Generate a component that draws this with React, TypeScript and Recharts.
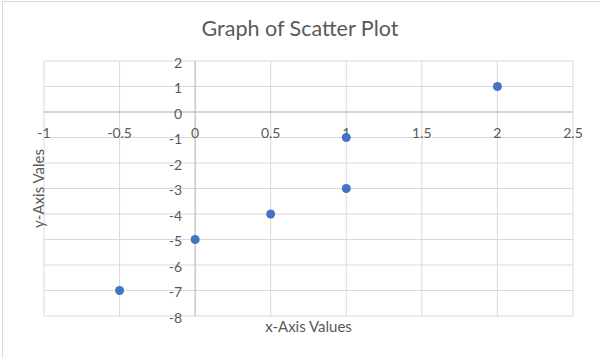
import React from "react";
import {
  ReferenceDot,
  ReferenceLine,
  Scatter,
  ScatterChart,
  XAxis,
  YAxis
} from "recharts";

const xValues = [-0.5, 0, 0.5, 1, 1, 2];
const yValues = [-7, -5, -4, -3, -1, 1];
const xTicks = [-1, -0.5, 0, 0.5, 1, 1.5, 2, 2.5];
const yTicks = [-8, -7, -6, -5, -4, -3, -2, -1, 0, 1, 2];

const points = xValues.map((x, i) => ({ x, y: yValues[i] }));

const font = "Lato, 'Open Sans', sans-serif";
const textColor = "#595959";

export default function App() {
  return (
    <div
      style={{
        position: "absolute",
        left: 0,
        top: 0,
        width: 600,
        height: 358,
        background: "#fff",
        fontFamily: font
      }}
    >
      <div
        style={{
          position: "absolute",
          left: 2,
          top: 1,
          right: 0,
          height: 357,
          borderTop: "1px solid #d9d9d9",
          borderLeft: "1px solid #d9d9d9"
        }}
      />
      <div
        style={{
          position: "absolute",
          top: 15,
          width: 600,
          textAlign: "center",
          fontSize: 21.5,
          color: textColor
        }}
      >
        Graph of Scatter Plot
      </div>
      <div style={{ position: "absolute", left: 0, top: 0 }}>
        <ScatterChart
          width={600}
          height={358}
          margin={{ top: 61, right: 27, bottom: 0, left: 0 }}
        >
          <XAxis
            type="number"
            dataKey="x"
            domain={[-1, 2.5]}
            ticks={xTicks}
            height={42}
            tick={false}
            tickLine={false}
            axisLine={false}
            label={{
              value: "x-Axis Values",
              position: "insideTop",
              offset: 5,
              fill: textColor,
              fontSize: 15,
              fontFamily: font
            }}
          />
          <YAxis
            type="number"
            dataKey="y"
            domain={[-8, 2]}
            ticks={yTicks}
            width={44}
            tick={false}
            tickLine={false}
            axisLine={false}
            label={{
              content: (props: any) => {
                const vb = props.viewBox || {};
                const cx = (vb.x || 0) + 38;
                const cy = (vb.y || 0) + (vb.height || 0) / 2;
                return (
                  <text
                    x={cx}
                    y={cy}
                    transform={`rotate(-90, ${cx}, ${cy})`}
                    textAnchor="middle"
                    dominantBaseline="central"
                    fill={textColor}
                    fontSize={15}
                    fontFamily={font}
                  >
                    y-Axis Vales
                  </text>
                );
              }
            }}
          />
          {yTicks.map((t) => (
            <ReferenceLine key={"gy" + t} y={t} stroke="#d9d9d9" ifOverflow="visible" />
          ))}
          {xTicks.map((t) => (
            <ReferenceLine key={"gx" + t} x={t} stroke="#d9d9d9" ifOverflow="visible" />
          ))}
          <ReferenceLine y={0} stroke="#bfbfbf" />
          <ReferenceLine x={0} stroke="#bfbfbf" />
          {xTicks.map((t) => (
            <ReferenceDot
              key={"x" + t}
              x={t}
              y={0}
              r={1}
              ifOverflow="visible"
              shape={(p: any) => (
                <text
                  x={p.cx}
                  y={p.cy + 20}
                  textAnchor="middle"
                  dominantBaseline="central"
                  fill={textColor}
                  fontSize={14}
                  fontFamily={font}
                >
                  {t}
                </text>
              )}
            />
          ))}
          {yTicks.map((t) => (
            <ReferenceDot
              key={"y" + t}
              x={0}
              y={t}
              r={1}
              ifOverflow="visible"
              shape={(p: any) => (
                <text
                  x={p.cx - 13}
                  y={p.cy + 1}
                  textAnchor="end"
                  dominantBaseline="central"
                  fill={textColor}
                  fontSize={14}
                  fontFamily={font}
                >
                  {t}
                </text>
              )}
            />
          ))}
          <Scatter
            data={points}
            fill="#4472c4"
            isAnimationActive={false}
            shape={(p: any) => <circle cx={p.cx} cy={p.cy} r={4.5} fill="#4472c4" />}
          />
        </ScatterChart>
      </div>
    </div>
  );
}
